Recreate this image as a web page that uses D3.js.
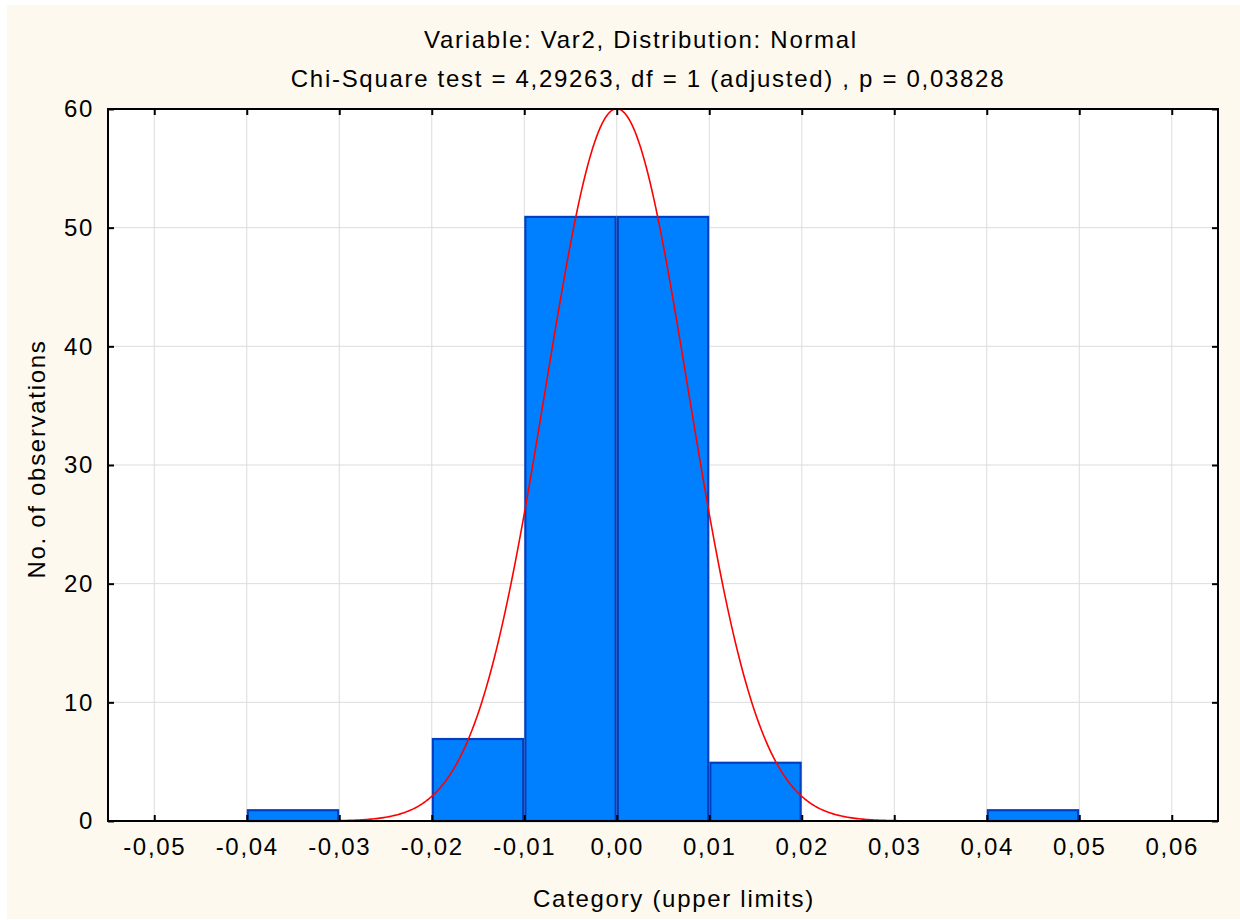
<!DOCTYPE html>
<html lang="en">
<head>
<meta charset="UTF-8">
<title>Histogram Var2</title>
<script src="https://d3js.org/d3.v7.min.js"></script>
<style>
  body { margin: 0; background: #fff; }
  text { font-family: "Liberation Sans", Arial, sans-serif; fill: #000; }
</style>
</head>
<body>
<script>
// bin upper limits and counts
var upperLimits = [-0.05, -0.04, -0.03, -0.02, -0.01, 0.00, 0.01, 0.02, 0.03, 0.04, 0.05, 0.06];
var counts      = [0, 0, 1, 0, 7, 51, 51, 5, 0, 0, 1, 0];
var binWidth = 0.01;
var xTicks = [-0.05, -0.04, -0.03, -0.02, -0.01, 0.00, 0.01, 0.02, 0.03, 0.04, 0.05, 0.06];
var yTicks = [0, 10, 20, 30, 40, 50, 60];
// fitted normal
var fitMean = 0.0;
var fitSd = 0.00771;
var nObs = 116;

var width = 1240, height = 920;
var pLeft = 108, pRight = 1218, pTop = 109, pBottom = 821;
var fs = 24, ls = 1.7;

var svg = d3.select('body').append('svg')
  .attr('width', width).attr('height', height);

svg.append('rect').attr('x', 7).attr('y', 5).attr('width', width - 7).attr('height', 914)
  .attr('fill', '#fef9ee');

var x = d3.scaleLinear().domain([-0.055, 0.065]).range([pLeft, pRight]);
var y = d3.scaleLinear().domain([0, 60]).range([pBottom, pTop]);
var fmt = function(d) { return d3.format('.2f')(d).replace('.', ',').replace('−', '-'); };

svg.append('rect').attr('x', pLeft).attr('y', pTop)
  .attr('width', pRight - pLeft).attr('height', pBottom - pTop).attr('fill', '#fff');

// grid
svg.append('g').selectAll('line').data(xTicks).enter().append('line')
  .attr('x1', function(d) { return x(d); }).attr('x2', function(d) { return x(d); })
  .attr('y1', pTop).attr('y2', pBottom)
  .attr('stroke', '#dcdcdc').attr('stroke-width', 1);
svg.append('g').selectAll('line').data(yTicks).enter().append('line')
  .attr('x1', pLeft).attr('x2', pRight)
  .attr('y1', function(d) { return y(d); }).attr('y2', function(d) { return y(d); })
  .attr('stroke', '#dcdcdc').attr('stroke-width', 1);

// bars (outline kept inside each bin)
var inset = 1.1;
var bins = upperLimits.map(function(u, i) { return { lo: u - binWidth, hi: u, n: counts[i] }; })
  .filter(function(b) { return b.n > 0; });
svg.append('g').selectAll('rect').data(bins).enter().append('rect')
  .attr('x', function(d) { return x(d.lo) + inset; })
  .attr('y', function(d) { return y(d.n) + inset; })
  .attr('width', function(d) { return x(d.hi) - x(d.lo) - 2 * inset; })
  .attr('height', function(d) { return y(0) - y(d.n) - inset; })
  .attr('fill', '#0080ff').attr('stroke', '#0040c0').attr('stroke-width', 2.2);

// normal curve
var xs = d3.range(-0.055, 0.06501, 0.0002);
var curve = d3.line()
  .x(function(d) { return x(d); })
  .y(function(d) {
    var z = (d - fitMean) / fitSd;
    return y(nObs * binWidth * Math.exp(-z * z / 2) / (fitSd * Math.sqrt(2 * Math.PI)));
  });
svg.append('path').datum(xs).attr('d', curve)
  .attr('fill', 'none').attr('stroke', '#ff0000').attr('stroke-width', 1.6);

// frame
svg.append('rect').attr('x', pLeft).attr('y', pTop)
  .attr('width', pRight - pLeft).attr('height', pBottom - pTop)
  .attr('fill', 'none').attr('stroke', '#000').attr('stroke-width', 2);

// axes with inward ticks
var xb = d3.axisBottom(x).tickValues(xTicks).tickSize(-6).tickPadding(17).tickFormat(fmt);
var xt = d3.axisTop(x).tickValues(xTicks).tickSize(-6).tickFormat('');
var yl = d3.axisLeft(y).tickValues(yTicks).tickSize(-6).tickPadding(14);
var yr = d3.axisRight(y).tickValues(yTicks).tickSize(-6).tickFormat('');

function styleAxis(g) {
  g.select('.domain').remove();
  g.selectAll('.tick line').attr('stroke', '#000').attr('stroke-width', 2);
  g.selectAll('.tick text').attr('font-size', fs).attr('letter-spacing', ls)
    .attr('font-family', '"Liberation Sans", Arial, sans-serif');
}
svg.append('g').attr('transform', 'translate(0,' + pBottom + ')').call(xb).call(styleAxis);
svg.append('g').attr('transform', 'translate(0,' + pTop + ')').call(xt).call(styleAxis);
svg.append('g').attr('transform', 'translate(' + pLeft + ',0)').call(yl).call(styleAxis);
svg.append('g').attr('transform', 'translate(' + pRight + ',0)').call(yr).call(styleAxis);

// titles
function label(t, tx, ty, rot) {
  svg.append('text')
    .attr('transform', 'translate(' + tx + ',' + ty + ')' + (rot ? ' rotate(-90)' : ''))
    .attr('text-anchor', 'middle').attr('font-size', fs).attr('letter-spacing', ls)
    .text(t);
}
label('Variable: Var2, Distribution: Normal', 641, 48);
label('Chi-Square test = 4,29263, df = 1 (adjusted) , p = 0,03828', 648, 87);
label('Category (upper limits)', 674, 907);
label('No. of observations', 45, 459, true);
</script>
</body>
</html>
